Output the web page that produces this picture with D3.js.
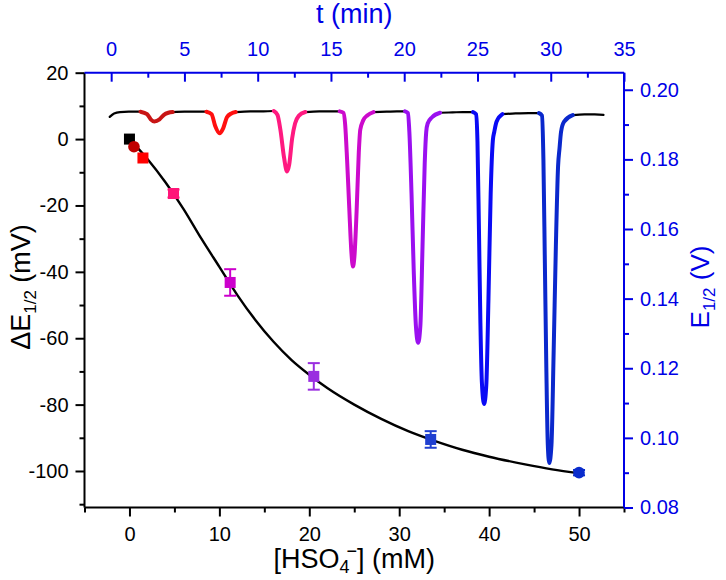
<!DOCTYPE html>
<html><head><meta charset="utf-8">
<script src="https://cdn.jsdelivr.net/npm/d3@7"></script>
<style>
body{margin:0;background:#fff}
text{font-family:"Liberation Sans",Arial,sans-serif}
</style></head>
<body><svg id="chart" width="726" height="580"></svg>
<script>
// ---------- data ----------
const concentrations = [0, 0.5, 1.5, 4.9, 11.2, 20.5, 33.5, 50];           // mM
const deltaE        = [0, -2.3, -5.7, -16.4, -43.2, -71.5, -90.5, -100.5]; // mV
const deltaEErr     = [0, 0, 0, 1.2, 4.0, 4.0, 2.5, 0.8];
const pointColors   = ["#000000", "#c00000", "#ff0000", "#ff1478", "#cc00cc", "#9a2ee0", "#1f3fd0", "#0a2ccc"];
const pointShapes   = ["square", "circle", "square", "square", "square", "square", "square", "circle"];

const fitX = [0, 2, 4, 6, 8, 10, 12, 14, 16, 18, 20, 22, 25, 28, 31, 34, 37, 40, 44, 47, 50];
const fitY = [0, -6, -13, -21, -30, -38.5, -47, -54.5, -61, -66.5, -71, -75, -80, -84.3, -88, -91, -93.6, -95.7, -98, -99.5, -100.7];

// E1/2 (V) vs t (min) trace, segment by segment
const traceBase1   = [[-0.1,0.1922],[0.2,0.1932],[0.6,0.1936],[1.2,0.1937],[2.0,0.1937]];
const traceDarkRed = [[2.0,0.1937],[2.45,0.1930],[2.7,0.1915],[2.95,0.1909],[3.3,0.1915],[3.6,0.1928],[3.9,0.1934],[4.2,0.1936]];
const traceBase2   = [[4.2,0.1936],[5.0,0.1937],[5.8,0.1937],[6.5,0.1937]];
const traceRed     = [[6.5,0.1937],[6.85,0.1930],[7.1,0.1896],[7.4,0.1875],[7.65,0.1890],[7.9,0.1921],[8.2,0.1932],[8.5,0.1936]];
const traceBase3   = [[8.5,0.1936],[9.5,0.1938],[10.4,0.1938],[11.1,0.1939]];
const tracePink    = [[11.1,0.1939],[11.35,0.1928],[11.55,0.1885],[11.8,0.1805],[12.0,0.1765],[12.15,0.1785],[12.35,0.1860],[12.55,0.1903],[12.8,0.1925],[13.25,0.1936]];
const traceBase4   = [[13.25,0.1936],[14.2,0.1938],[15.0,0.1938],[15.6,0.1938]];
const traceMagenta = [[15.6,0.1938],[15.85,0.1934],[15.97,0.1900],[16.1,0.1800],[16.25,0.1660],[16.4,0.1530],[16.5,0.1492],[16.6,0.1520],[16.75,0.1650],[16.9,0.1820],[17.0,0.1885],[17.2,0.1912],[17.5,0.1927],[17.9,0.1936]];
const traceBase5   = [[17.9,0.1936],[18.8,0.1937],[19.5,0.1938],[20.06,0.1938]];
const tracePurple  = [[20.06,0.1938],[20.25,0.1933],[20.35,0.1880],[20.5,0.1700],[20.65,0.1480],[20.8,0.1320],[20.95,0.1273],[21.1,0.1320],[21.25,0.1550],[21.4,0.1790],[21.5,0.1878],[21.6,0.1903],[21.9,0.1921],[22.45,0.1934]];
const traceBase6   = [[22.45,0.1934],[23.3,0.1935],[24.0,0.1936],[24.7,0.1936]];
const traceBlue    = [[24.7,0.1936],[24.9,0.1930],[25.0,0.1850],[25.1,0.1600],[25.2,0.1330],[25.3,0.1160],[25.45,0.1097],[25.6,0.1150],[25.75,0.1400],[25.9,0.1700],[26.05,0.1855],[26.15,0.1880],[26.3,0.1908],[26.7,0.1930]];
const traceBase7   = [[26.7,0.1930],[27.6,0.1932],[28.5,0.1933],[29.2,0.1933]];
const traceDkBlue  = [[29.2,0.1933],[29.4,0.1926],[29.5,0.1800],[29.6,0.1500],[29.7,0.1200],[29.8,0.0980],[29.9,0.0928],[30.05,0.0980],[30.2,0.1250],[30.35,0.1550],[30.5,0.1780],[30.6,0.1832],[30.7,0.1878],[30.9,0.1908],[31.5,0.1927]];
const traceBase8   = [[31.5,0.1927],[32.3,0.1929],[33.0,0.1929],[33.6,0.1928]];

const traceSegments = [
  {pts: traceBase1, color: "#000000", w: 2.2},
  {pts: traceBase2, color: "#000000", w: 2.2},
  {pts: traceBase3, color: "#000000", w: 2.2},
  {pts: traceBase4, color: "#000000", w: 2.2},
  {pts: traceBase5, color: "#000000", w: 2.2},
  {pts: traceBase6, color: "#000000", w: 2.2},
  {pts: traceBase7, color: "#000000", w: 2.2},
  {pts: traceBase8, color: "#000000", w: 2.2},
  {pts: traceDarkRed, color: "#c81414", w: 4},
  {pts: traceRed, color: "#ff1010", w: 4},
  {pts: tracePink, color: "#ff1a80", w: 4},
  {pts: traceMagenta, color: "#cc0acc", w: 4},
  {pts: tracePurple, color: "#9a10f0", w: 4},
  {pts: traceBlue, color: "#0a0af5", w: 4},
  {pts: traceDkBlue, color: "#0a28cc", w: 4}
];

const bottomTicks = [0, 10, 20, 30, 40, 50];
const leftTicks   = [-100, -80, -60, -40, -20, 0, 20];
const rightTicks  = [0.08, 0.10, 0.12, 0.14, 0.16, 0.18, 0.20];
const topTicks    = [0, 5, 10, 15, 20, 25, 30, 35];

// ---------- layout ----------
const svg = d3.select("#chart");
const L = 84.5, R = 624, T = 72.7, B = 507.5;
const BLUE = "#0000e6";

const x  = d3.scaleLinear().domain([-5, 55]).range([L, R]);
const y  = d3.scaleLinear().domain([-111, 20]).range([B, T]);
const xt = d3.scaleLinear().domain([-1.82, 35]).range([L, R]);
const yr = d3.scaleLinear().domain([0.08, 0.2049]).range([B, T]);

const fontTick = 20, fontTitle = 27;
const MAJ = 9, MIN = 5;

function styleAxis(g, color) {
  g.selectAll("path").attr("stroke", color).attr("stroke-width", 2);
  g.selectAll("line").attr("stroke", color).attr("stroke-width", 2);
  g.selectAll("text").attr("fill", color).attr("font-size", fontTick)
    .attr("font-family", "Liberation Sans, Arial, sans-serif");
}

// bottom axis
const gB = svg.append("g").attr("transform", `translate(0,${B})`)
  .call(d3.axisBottom(x).tickValues(bottomTicks).tickSize(MAJ).tickPadding(10).tickFormat(d3.format("d")));
styleAxis(gB, "#000");
const gBm = svg.append("g").attr("transform", `translate(0,${B})`)
  .call(d3.axisBottom(x).tickValues([-5, 5, 15, 25, 35, 45, 55]).tickSize(MIN).tickFormat(""));
styleAxis(gBm, "#000"); gBm.select("path").remove();

// left axis
const gL = svg.append("g").attr("transform", `translate(${L},0)`)
  .call(d3.axisLeft(y).tickValues(leftTicks).tickSize(MAJ).tickPadding(7).tickFormat(d3.format("d")));
styleAxis(gL, "#000");
gL.selectAll("text").text(d => d < 0 ? "-" + Math.abs(d) : d);
const gLm = svg.append("g").attr("transform", `translate(${L},0)`)
  .call(d3.axisLeft(y).tickValues([-110, -90, -70, -50, -30, -10, 10]).tickSize(MIN).tickFormat(""));
styleAxis(gLm, "#000"); gLm.select("path").remove();

// right axis
const gR = svg.append("g").attr("transform", `translate(${R},0)`)
  .call(d3.axisRight(yr).tickValues(rightTicks).tickSize(MAJ).tickPadding(7).tickFormat(d3.format(".2f")));
styleAxis(gR, BLUE);
const gRm = svg.append("g").attr("transform", `translate(${R},0)`)
  .call(d3.axisRight(yr).tickValues([0.09, 0.11, 0.13, 0.15, 0.17, 0.19]).tickSize(MIN).tickFormat(""));
styleAxis(gRm, BLUE); gRm.select("path").remove();

// top axis (ticks point inward)
const gT = svg.append("g").attr("transform", `translate(0,${T})`)
  .call(d3.axisTop(xt).tickValues(topTicks).tickSize(-MAJ).tickPadding(17).tickFormat(d3.format("d")));
styleAxis(gT, BLUE);
gT.selectAll("text").attr("dy", "0");
const gTm = svg.append("g").attr("transform", `translate(0,${T})`)
  .call(d3.axisTop(xt).tickValues([2.5, 7.5, 12.5, 17.5, 22.5, 27.5, 32.5]).tickSize(-MIN).tickFormat(""));
styleAxis(gTm, BLUE); gTm.select("path").remove();

// frame: left & bottom black, top & right blue
gL.select("path").attr("d", `M0,${T}V${B}`);
gB.select("path").attr("d", `M${L},0H${R}`);
gT.select("path").attr("d", `M${L},0H${R}`);
gR.select("path").attr("d", `M0,${T}V${B}`);

// ---------- trace ----------
const traceLine = d3.line().x(d => xt(d[0])).y(d => yr(d[1])).curve(d3.curveMonotoneX);
svg.append("g").selectAll("path").data(traceSegments).join("path")
  .attr("d", d => traceLine(d.pts))
  .attr("fill", "none")
  .attr("stroke", d => d.color)
  .attr("stroke-width", d => d.w)
  .attr("stroke-linejoin", "round")
  .attr("stroke-linecap", "round");

// ---------- fit curve ----------
const fitData = fitX.map((v, i) => [v, fitY[i]]);
svg.append("path")
  .attr("d", d3.line().x(d => x(d[0])).y(d => y(d[1])).curve(d3.curveMonotoneX)(fitData))
  .attr("fill", "none").attr("stroke", "#000").attr("stroke-width", 2.4);

// ---------- points with error bars ----------
const pts = concentrations.map((c, i) => ({c, e: deltaE[i], err: deltaEErr[i], color: pointColors[i], shape: pointShapes[i]}));
const gP = svg.append("g");
pts.forEach(p => {
  const cx = x(p.c), cy = y(p.e);
  if (p.err > 0) {
    const y1 = y(p.e + p.err), y2 = y(p.e - p.err);
    gP.append("line").attr("x1", cx).attr("x2", cx).attr("y1", y1).attr("y2", y2)
      .attr("stroke", p.color).attr("stroke-width", 2);
    [y1, y2].forEach(yy => gP.append("line").attr("x1", cx - 6).attr("x2", cx + 6).attr("y1", yy).attr("y2", yy)
      .attr("stroke", p.color).attr("stroke-width", 2));
  }
  if (p.shape === "square") {
    gP.append("rect").attr("x", cx - 5.5).attr("y", cy - 5.5).attr("width", 11).attr("height", 11).attr("fill", p.color);
  } else {
    gP.append("circle").attr("cx", cx).attr("cy", cy).attr("r", 5.8).attr("fill", p.color);
  }
});

// ---------- titles ----------
const midX = (L + R) / 2, midY = 287;
svg.append("text").attr("x", midX).attr("y", 23).attr("text-anchor", "middle")
  .attr("font-size", fontTitle).attr("fill", BLUE).text("t (min)");

const bt = svg.append("text").attr("x", midX).attr("y", 568).attr("text-anchor", "middle")
  .attr("font-size", fontTitle).attr("fill", "#000");
bt.append("tspan").text("[HSO");
bt.append("tspan").attr("font-size", 18).attr("dy", 5).text("4");
bt.append("tspan").attr("font-size", 18).attr("dy", -16).attr("dx", -3).text("\u2212");
bt.append("tspan").attr("dy", 11).text("] (mM)");

const lt = svg.append("text").attr("transform", `translate(30,${midY}) rotate(-90)`).attr("text-anchor", "middle")
  .attr("font-size", fontTitle).attr("fill", "#000");
lt.append("tspan").text("\u0394E");
lt.append("tspan").attr("font-size", 17).attr("dy", 6).text("1/2");
lt.append("tspan").attr("dy", -6).text(" (mV)");

const rt = svg.append("text").attr("transform", `translate(709,${midY}) rotate(-90)`).attr("text-anchor", "middle")
  .attr("font-size", 26).attr("fill", BLUE);
rt.append("tspan").text("E");
rt.append("tspan").attr("font-size", 17).attr("dy", 6).text("1/2");
rt.append("tspan").attr("dy", -6).text(" (V)");
</script>
</body></html>
